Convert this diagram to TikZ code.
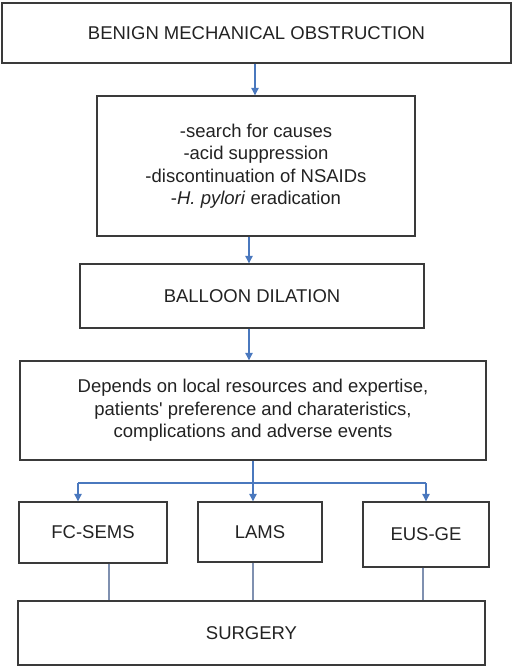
\documentclass[tikz,border=0pt]{standalone}
\usepackage{fontspec}
\setmainfont{Liberation Sans}[Ligatures=TeXOff]
\usetikzlibrary{arrows.meta}
\definecolor{boxline}{HTML}{3A3A3A}
\definecolor{arrblue}{HTML}{4A78BE}
\definecolor{linegray}{HTML}{7F90B0}
\definecolor{txt}{HTML}{222222}
\tikzset{
  box/.style={draw=boxline, line width=1.4pt, inner sep=0pt, align=center, text=txt,
    font=\fontsize{18.5}{22.5}\selectfont},
  arr/.style={draw=arrblue, line width=1.1pt, -{Triangle[width=7.5pt,length=7.5pt]}},
  bus/.style={draw=arrblue, line width=1.1pt},
  conn/.style={draw=linegray, line width=1.1pt}
}
\begin{document}
\begin{tikzpicture}[x=1pt,y=-1pt]
\useasboundingbox (0,0) rectangle (512,667);
\node[box, minimum width=509pt, minimum height=60pt] (a) at (256.5,33) {BENIGN MECHANICAL OBSTRUCTION};
\node[box, minimum width=318pt, minimum height=140pt] (b) at (256,166) {-search for causes\\-acid suppression\\-discontinuation of NSAIDs\\-\textit{H. pylori} eradication};
\node[box, minimum width=344pt, minimum height=64pt] (c) at (252,296) {BALLOON DILATION};
\node[box, minimum width=466pt, minimum height=99pt] (d) at (253,410.5) {Depends on local resources and expertise,\\patients' preference and charateristics,\\complications and adverse events};
\node[box, minimum width=148pt, minimum height=61pt] (fc) at (93,532.5) {FC-SEMS};
\node[box, minimum width=124pt, minimum height=60pt] (lams) at (260,532) {LAMS};
\node[box, minimum width=126pt, minimum height=65pt] (eus) at (426,534.5) {EUS-GE};
\node[box, minimum width=467pt, minimum height=64pt] (s) at (251.5,633) {SURGERY};
% arrows
\coordinate (ab) at (255,0);
\draw[arr] (a.south -| ab) -- (b.north -| ab);
\coordinate (bc) at (249,0);
\draw[arr] (b.south -| bc) -- (c.north -| bc);
\draw[arr] (c.south -| bc) -- (d.north -| bc);
\coordinate (bl) at (78,483);
\coordinate (bm) at (253,483);
\coordinate (br) at (426,483);
\draw[bus] (d.south -| bm) -- (bm);
\draw[bus] (bl) -- (br);
\draw[arr] (bl) -- (bl |- fc.north);
\draw[arr] (bm) -- (bm |- lams.north);
\draw[arr] (br) -- (br |- eus.north);
% lines to surgery
\coordinate (l1) at (109,0);
\coordinate (l2) at (253,0);
\coordinate (l3) at (423,0);
\draw[conn] (fc.south -| l1) -- (s.north -| l1);
\draw[conn] (lams.south -| l2) -- (s.north -| l2);
\draw[conn] (eus.south -| l3) -- (s.north -| l3);
\end{tikzpicture}
\end{document}
